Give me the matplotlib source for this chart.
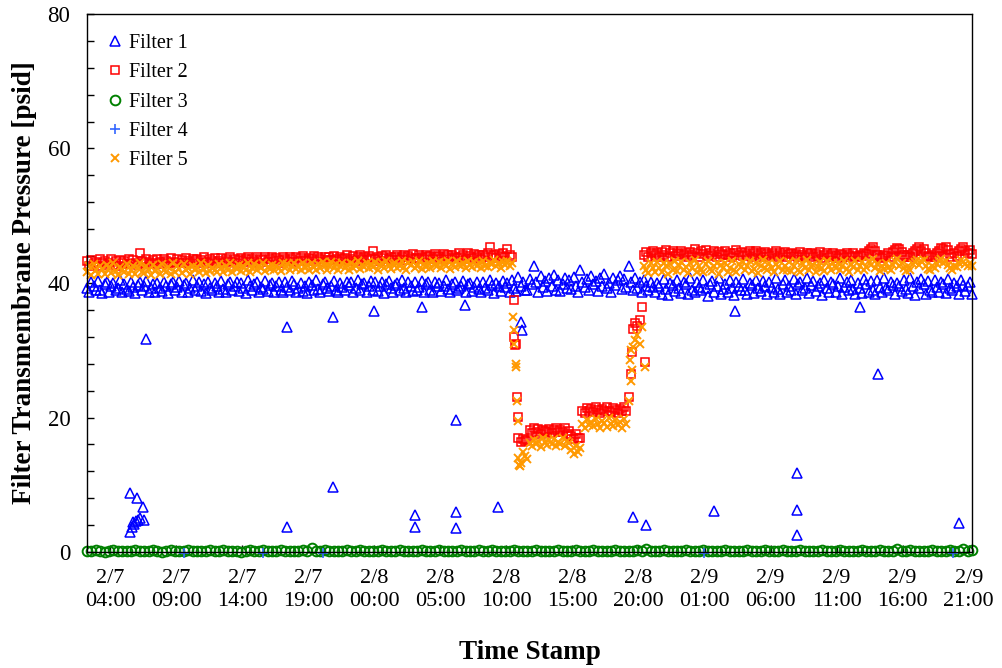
import numpy as np
import matplotlib
matplotlib.use("Agg")
import matplotlib.pyplot as plt
from matplotlib.ticker import MultipleLocator

plt.rcParams['font.family'] = ['Liberation Serif', 'DejaVu Serif']

# ---------------- data (hours counted from 2/7 00:00) ----------------
t_start = 2.25            # first reading 2/7 02:15
step_main = 1.0 / 6.0     # filters 1, 2, 5 read every 10 min
step_f3 = 1.0 / 3.0       # filter 3 read every 20 min

filter1 = [
    39.2, 38.6, 40.1, 39.5, 38.9, 40.3, 39.0, 38.5, 39.8, 40.2,
    38.7, 39.6, 40.0, 38.9, 39.3, 40.4, 38.6, 39.9, 39.1, 38.8,
    40.2, 39.4, 38.5, 39.7, 40.1, 38.9, 39.5, 40.3, 38.7, 39.2,
    39.8, 38.6, 40.0, 39.3, 38.8, 40.2, 39.6, 38.5, 39.9, 40.1,
    38.9, 39.4, 40.3, 38.7, 39.7, 40.0, 38.6, 39.2, 40.4, 39.0,
    39.5, 40.1, 38.8, 39.9, 38.5, 40.2, 39.3, 38.9, 40.0, 39.6,
    38.7, 40.3, 39.1, 38.6, 39.8, 40.1, 38.9, 39.5, 40.2, 38.8,
    40.0, 39.2, 38.5, 40.4, 39.6, 38.9, 39.9, 40.2, 38.7, 39.4,
    39.1, 40.3, 38.8, 39.7, 40.0, 38.6, 39.5, 40.2, 39.0, 38.7,
    40.1, 39.4, 38.9, 40.3, 39.8, 38.6, 39.2, 40.0, 38.8, 39.6,
    38.5, 40.2, 39.7, 38.9, 40.4, 39.1, 38.7, 39.9, 40.1, 39.3,
    38.8, 39.6, 40.3, 39.0, 38.6, 40.0, 39.4, 38.9, 40.2, 39.7,
    40.1, 38.7, 39.3, 40.4, 38.9, 39.8, 40.0, 38.6, 39.5, 40.3,
    39.0, 40.2, 38.8, 39.6, 40.1, 38.5, 39.9, 40.3, 39.2, 38.7,
    39.7, 40.0, 38.9, 40.4, 39.3, 38.6, 40.1, 39.5, 38.8, 40.2,
    38.9, 39.4, 40.3, 38.7, 39.9, 40.1, 39.0, 38.6, 40.2, 39.6,
    40.0, 38.8, 39.5, 40.4, 39.1, 38.7, 39.8, 40.2, 38.9, 39.3,
    39.6, 40.3, 38.6, 39.9, 40.0, 38.8, 39.4, 40.2, 39.1, 38.7,
    40.1, 39.2, 38.9, 40.4, 39.7, 38.5, 40.0, 39.5, 38.8, 40.3,
    39.4, 40.0, 38.7, 40.5, 39.2, 38.8, 40.9, 39.6, 40.2, 39.0,
    38.9, 40.6, 39.8, 42.6, 40.1, 38.7, 41.0, 39.4, 40.3, 38.8,
    40.7, 39.5, 41.2, 39.0, 40.4, 38.8, 39.9, 40.8, 39.3, 40.5,
    39.1, 40.9, 39.6, 38.7, 41.9, 40.2, 39.4, 40.6, 38.9, 41.1,
    39.8, 40.3, 38.8, 40.7, 39.5, 41.3, 39.2, 40.0, 38.6, 40.8,
    39.7, 40.4, 41.0, 39.1, 40.6, 39.4, 42.5, 40.2, 39.0, 40.7,
    39.3, 40.1, 38.7, 40.5, 39.6, 38.9, 40.2, 39.4, 38.6, 40.0,
    39.5, 38.4, 40.6, 39.1, 38.2, 40.0, 39.7, 38.8, 40.4, 39.3,
    38.5, 40.2, 39.8, 38.3, 40.7, 39.0, 38.6, 40.1, 39.4, 38.9,
    40.5, 39.2, 38.1, 39.9, 40.3, 38.7, 39.6, 40.8, 38.4, 39.1,
    39.8, 38.6, 40.4, 39.3, 38.2, 40.1, 39.5, 38.9, 40.6, 39.0,
    38.3, 40.0, 39.7, 38.5, 40.5, 39.2, 38.8, 40.3, 39.6, 38.4,
    40.2, 39.4, 38.6, 40.7, 39.1, 38.3, 39.9, 40.4, 38.7, 39.5,
    39.0, 40.6, 38.4, 39.8, 40.1, 38.9, 39.3, 40.8, 38.5, 39.7,
    40.3, 38.8, 39.5, 40.0, 38.2, 40.5, 39.2, 38.6, 40.2, 39.9,
    38.7, 39.6, 40.7, 38.4, 39.4, 40.1, 38.9, 40.4, 39.1, 38.3,
    40.0, 39.3, 38.5, 40.6, 39.8, 38.7, 40.3, 39.0, 38.4, 40.5,
    39.4, 38.6, 40.8, 39.2, 38.9, 40.2, 39.7, 38.3, 40.0, 39.5,
    38.8, 40.4, 39.1, 38.5, 40.7, 39.6, 38.2, 40.1, 39.3, 40.6,
    39.9, 38.4, 40.3, 39.0, 38.7, 40.5, 39.4, 38.6, 40.2, 39.8,
    38.5, 40.6, 39.2, 38.9, 40.0, 39.5, 38.3, 40.4, 39.7, 38.8,
    39.6, 40.1, 38.4,
]

filter2 = [
    43.2, 42.6, 43.4, 42.8, 43.1, 42.5, 43.5, 42.9, 43.3, 42.7,
    43.0, 43.5, 42.7, 43.2, 42.6, 43.4, 42.9, 43.3, 42.8, 43.6,
    42.8, 43.4, 43.0, 42.7, 44.4, 43.3, 42.9, 43.5, 43.1, 42.8,
    43.4, 42.9, 43.6, 43.1, 42.8, 43.5, 43.2, 42.9, 43.7, 43.0,
    43.1, 43.6, 42.9, 43.4, 43.0, 43.7, 43.2, 42.9, 43.5, 43.3,
    43.6, 43.0, 43.4, 43.8, 43.1, 42.9, 43.5, 43.2, 43.7, 43.0,
    43.3, 43.7, 43.0, 43.5, 43.2, 43.8, 43.1, 43.6, 42.9, 43.4,
    43.7, 43.2, 43.5, 43.9, 43.1, 43.6, 43.3, 43.8, 43.0, 43.5,
    43.4, 43.8, 43.1, 43.6, 43.9, 43.2, 43.7, 43.4, 43.0, 43.8,
    43.6, 43.2, 43.9, 43.5, 43.1, 43.8, 43.3, 43.7, 44.0, 43.4,
    43.2, 43.7, 43.5, 44.0, 43.3, 43.8, 43.6, 43.1, 43.9, 43.4,
    43.8, 43.4, 44.0, 43.6, 43.2, 43.9, 43.5, 43.7, 44.1, 43.3,
    43.6, 44.0, 43.3, 43.8, 44.1, 43.5, 43.9, 43.4, 44.0, 43.7,
    44.7, 43.5, 43.9, 43.3, 44.0, 43.7, 44.2, 43.6, 43.8, 43.4,
    43.9, 44.2, 43.5, 43.8, 44.1, 43.4, 44.0, 43.7, 44.3, 43.6,
    43.7, 44.1, 43.9, 43.5, 44.2, 43.8, 44.0, 43.6, 44.3, 43.9,
    44.0, 43.6, 44.3, 43.8, 44.1, 43.5, 44.2, 43.9, 43.7, 44.4,
    43.8, 44.2, 43.6, 44.4, 44.0, 43.7, 44.3, 43.9, 44.1, 43.6,
    44.2, 43.8, 44.5, 45.3, 43.9, 44.1, 43.7, 44.3, 44.0, 44.4,
    43.9, 45.0, 44.2, 43.8, 37.5, 31.0, 17.0, 16.4, 16.8, 16.5,
    16.7, 18.1, 17.7, 18.4, 17.9, 18.3, 17.6, 18.2, 18.0, 17.8,
    18.3, 17.7, 18.1, 18.5, 17.8, 18.2, 17.9, 18.4, 17.6, 18.0,
    17.2, 16.8, 17.5, 17.0, 16.9, 21.0, 20.7, 21.4, 20.9, 21.2,
    20.8, 21.5, 21.1, 20.7, 21.3, 20.9, 21.6, 21.0, 20.8, 21.4,
    21.1, 20.7, 21.3, 21.0, 21.5, 20.9, 23.0, 26.4, 33.2, 34.0,
    33.6, 34.5, 36.5, 44.2, 44.6, 43.9, 44.4, 44.8, 44.1, 44.5,
    43.8, 44.6, 44.2, 44.9, 43.9, 44.4, 44.7, 44.0, 44.5, 44.3,
    44.8, 44.1, 44.5, 43.8, 44.6, 44.2, 45.0, 44.4, 43.9, 44.7,
    44.3, 44.9, 44.0, 44.5, 44.2, 44.8, 43.9, 44.6, 44.3, 44.1,
    44.7, 44.2, 44.5, 43.8, 44.4, 44.9, 44.1, 44.6, 44.0, 44.5,
    44.2, 44.8, 43.9, 44.4, 44.7, 44.1, 44.5, 43.8, 44.6, 44.3,
    44.0, 44.5, 44.2, 44.7, 43.9, 44.4, 44.1, 44.6, 43.8, 44.3,
    44.5, 44.0, 44.3, 43.8, 44.6, 44.2, 43.9, 44.4, 44.1, 44.5,
    43.9, 44.3, 44.0, 44.6, 43.7, 44.2, 44.5, 43.9, 44.1, 44.4,
    44.0, 43.7, 44.3, 44.1, 43.8, 44.5, 44.2, 43.9, 44.4, 44.0,
    43.8, 44.2, 44.0, 44.5, 44.3, 44.8, 45.1, 45.3, 44.7, 44.2,
    43.9, 43.7, 44.1, 44.0, 44.4, 43.8, 44.6, 44.9, 45.2, 45.0,
    44.6, 44.1, 43.8, 44.2, 43.9, 44.4, 44.7, 45.0, 45.3, 44.8,
    45.1, 44.5, 44.0, 43.8, 44.2, 43.9, 44.5, 44.8, 45.2, 45.0,
    45.3, 44.9, 44.3, 43.9, 44.4, 44.0, 44.7, 45.1, 45.3, 44.8,
    44.5, 44.9, 44.3,
]

filter5 = [
    41.6, 42.5, 41.2, 42.8, 41.9, 41.4, 42.6, 42.1, 41.3, 42.7,
    42.2, 41.5, 42.9, 41.8, 41.2, 42.4, 42.0, 41.6, 42.8, 41.4,
    41.9, 42.6, 41.3, 42.2, 42.9, 41.7, 41.5, 42.5, 42.0, 41.2,
    42.7, 41.8, 42.3, 41.4, 42.8, 42.0, 41.6, 42.4, 41.3, 42.9,
    41.7, 42.5, 42.1, 41.5, 42.8, 41.9, 42.3, 41.4, 42.6, 42.0,
    42.4, 41.6, 42.9, 42.1, 41.5, 42.7, 41.8, 42.3, 42.0, 41.6,
    42.8, 42.2, 41.7, 42.5, 41.9, 42.9, 41.6, 42.4, 42.1, 42.7,
    41.8, 42.6, 42.0, 42.9, 41.7, 42.3, 42.8, 41.9, 42.5, 42.2,
    42.9, 41.8, 42.4, 42.1, 42.7, 41.9, 42.6, 42.3, 41.8, 43.0,
    42.2, 42.8, 41.9, 42.5, 43.0, 42.1, 42.6, 41.9, 42.9, 42.3,
    42.7, 42.0, 42.9, 42.4, 41.9, 42.8, 42.2, 43.1, 42.5, 42.0,
    42.6, 43.1, 42.2, 42.8, 42.0, 42.5, 43.0, 42.3, 42.7, 41.9,
    42.9, 42.3, 42.6, 43.2, 42.1, 42.7, 42.4, 43.0, 42.2, 42.8,
    42.4, 43.1, 42.0, 42.7, 42.9, 42.3, 43.2, 42.5, 42.1, 42.8,
    43.0, 42.2, 42.6, 43.3, 42.4, 42.0, 42.9, 42.7, 43.1, 42.3,
    42.6, 43.2, 42.1, 42.8, 42.4, 43.0, 42.2, 43.3, 42.7, 42.5,
    43.1, 42.3, 42.9, 42.6, 43.3, 42.1, 42.8, 42.4, 43.2, 42.7,
    42.5, 43.0, 42.2, 43.3, 42.7, 42.4, 43.1, 42.6, 42.9, 42.3,
    43.2, 42.6, 42.4, 43.0, 42.8, 43.4, 42.5, 42.9, 42.3, 43.1,
    42.7, 43.2, 42.5, 42.9, 33.0, 28.0, 14.0, 13.2, 14.8, 14.3,
    13.8, 16.2, 15.8, 16.7, 16.0, 16.5, 15.6, 16.9, 16.3, 15.9,
    16.6, 16.1, 16.8, 15.7, 16.4, 16.0, 16.9, 15.8, 16.5, 16.2,
    15.2, 14.6, 15.8, 14.9, 15.4, 19.1, 18.5, 19.7, 18.9, 19.4,
    18.7, 19.8, 19.0, 18.4, 19.5, 19.2, 18.6, 19.9, 19.1, 18.8,
    19.6, 18.9, 19.3, 18.5, 19.8, 19.0, 22.5, 25.5, 30.5, 31.5,
    32.2, 31.0, 33.5, 42.6, 42.0, 41.5, 42.9, 42.3, 41.7, 43.1,
    42.2, 41.6, 43.0, 42.5, 41.4, 42.8, 42.0, 43.3, 41.8, 42.6,
    43.1, 41.9, 42.4, 41.5, 42.9, 42.2, 43.4, 41.7, 42.6, 42.0,
    41.6, 42.8, 43.2, 42.1, 41.8, 42.5, 43.0, 41.4, 42.7, 42.3,
    42.9, 41.7, 42.3, 43.3, 42.0, 41.6, 42.8, 42.4, 43.1, 41.9,
    42.5, 43.2, 41.8, 42.1, 42.9, 41.5, 42.6, 43.4, 42.2, 41.9,
    43.0, 42.3, 41.7, 42.8, 42.4, 43.3, 41.9, 42.5, 42.0, 43.1,
    41.8, 42.6, 43.2, 42.0, 41.6, 42.9, 42.3, 43.4, 41.9, 42.5,
    42.7, 41.7, 42.4, 43.1, 42.2, 41.8, 43.3, 42.6, 42.0, 42.9,
    42.3, 43.0, 41.9, 42.5, 43.2, 42.1, 41.7, 42.8, 42.4, 43.3,
    42.0, 42.6, 43.1, 41.9, 42.4, 43.3, 42.7, 43.5, 42.2, 42.8,
    41.8, 42.5, 42.1, 43.0, 42.3, 41.9, 42.7, 43.2, 43.5, 42.6,
    43.0, 42.2, 41.8, 42.5, 42.0, 42.8, 43.1, 43.4, 42.7, 43.2,
    43.4, 42.6, 42.1, 41.9, 42.5, 42.2, 42.8, 43.3, 43.5, 42.9,
    43.2, 42.7, 42.3, 41.9, 42.6, 42.4, 43.0, 43.4, 43.1, 42.8,
    42.5, 43.0, 42.6,
]

filter3 = [
    0.2, 0.1, 0.3, 0.2, 0.0, 0.2, 0.3, 0.1, 0.2, 0.2,
    0.1, 0.3, 0.2, 0.2, 0.1, 0.3, 0.2, 0.0, 0.2, 0.3,
    0.2, 0.1, 0.2, 0.3, 0.2, 0.1, 0.2, 0.2, 0.3, 0.1,
    0.2, 0.3, 0.1, 0.2, 0.2, 0.0, 0.2, 0.3, 0.2, 0.1,
    0.3, 0.2, 0.1, 0.2, 0.3, 0.2, 0.2, 0.1, 0.2, 0.3,
    0.2, 0.6, 0.2, 0.1, 0.3, 0.2, 0.2, 0.1, 0.2, 0.3,
    0.1, 0.2, 0.3, 0.2, 0.1, 0.2, 0.2, 0.3, 0.2, 0.1,
    0.2, 0.3, 0.2, 0.1, 0.2, 0.2, 0.3, 0.1, 0.2, 0.2,
    0.3, 0.2, 0.1, 0.2, 0.2, 0.3, 0.2, 0.1, 0.2, 0.3,
    0.2, 0.1, 0.3, 0.2, 0.2, 0.1, 0.2, 0.3, 0.2, 0.2,
    0.1, 0.2, 0.3, 0.2, 0.1, 0.2, 0.2, 0.3, 0.1, 0.2,
    0.2, 0.3, 0.2, 0.1, 0.2, 0.3, 0.2, 0.2, 0.1, 0.2,
    0.3, 0.2, 0.1, 0.2, 0.2, 0.3, 0.2, 0.5, 0.2, 0.1,
    0.2, 0.3, 0.2, 0.1, 0.2, 0.2, 0.3, 0.2, 0.1, 0.2,
    0.3, 0.2, 0.2, 0.1, 0.2, 0.3, 0.2, 0.1, 0.2, 0.2,
    0.3, 0.1, 0.2, 0.2, 0.3, 0.2, 0.1, 0.2, 0.3, 0.2,
    0.2, 0.1, 0.3, 0.2, 0.2, 0.1, 0.2, 0.3, 0.2, 0.1,
    0.2, 0.3, 0.2, 0.2, 0.1, 0.2, 0.3, 0.2, 0.2, 0.1,
    0.3, 0.2, 0.1, 0.2, 0.5, 0.2, 0.1, 0.3, 0.2, 0.2,
    0.1, 0.2, 0.3, 0.2, 0.2, 0.1, 0.3, 0.2, 0.2, 0.4,
    0.2, 0.3,
]

# extra (off-grid) readings
filter1_extra_h = [5.51, 6.04, 6.49, 6.56, 6.11, 5.73, 5.66, 5.51, 5.80, 5.95, 6.30,
                   6.72, 17.39, 17.39, 20.87, 20.87, 23.98, 27.08, 27.08, 27.61,
                   30.18, 30.18, 30.18, 30.86, 33.36, 35.10, 35.18, 43.58, 44.57,
                   49.71, 51.30, 56.00, 56.00, 56.00, 60.77, 62.13, 68.26]
filter1_extra_v = [8.8, 8.0, 6.7, 4.8, 4.8, 4.5, 3.7, 3.0, 4.2, 4.6, 5.0,
                   31.6, 3.7, 33.4, 9.7, 35.0, 35.9, 5.5, 3.7, 36.5,
                   6.0, 3.6, 19.7, 36.8, 6.7, 34.2, 33.0, 5.2, 4.0,
                   6.1, 35.8, 11.8, 6.3, 2.5, 36.5, 26.4, 4.3]

filter2_extra_h = [34.57, 34.65, 34.80, 34.88, 43.51, 44.49]
filter2_extra_v = [31.9, 30.8, 23.1, 20.1, 29.7, 28.2]

filter5_extra_h = [34.50, 34.60, 34.72, 34.80, 34.88, 34.95, 35.02, 43.35, 43.45, 43.51, 44.49]
filter5_extra_v = [35.0, 31.0, 27.5, 22.5, 19.5, 13.0, 12.8, 28.5, 30.0, 27.0, 27.5]

filter4_h = [9.59, 15.57, 20.12, 48.96, 67.81]
filter4_v = [-0.15, -0.15, -0.15, -0.15, -0.15]

tick_hours = [4, 9, 14, 19, 24, 29, 34, 39, 44, 49, 54, 59, 64, 69]
tick_labels = ["2/7\n04:00", "2/7\n09:00", "2/7\n14:00", "2/7\n19:00",
               "2/8\n00:00", "2/8\n05:00", "2/8\n10:00", "2/8\n15:00",
               "2/8\n20:00", "2/9\n01:00", "2/9\n06:00", "2/9\n11:00",
               "2/9\n16:00", "2/9\n21:00"]

# ---------------- plot ----------------
hours1 = t_start + step_main * np.arange(len(filter1))
hours2 = t_start + step_main * np.arange(len(filter2))
hours5 = t_start + step_main * np.arange(len(filter5))
hours3 = t_start + step_f3 * np.arange(len(filter3))

fig = plt.figure(figsize=(10.02, 6.68), dpi=100)
ax = fig.add_axes([87 / 1002, 116 / 668, 885 / 1002, 538 / 668])

c1, c2, c3, c4, c5 = '#0000FF', '#FF0000', '#008000', '#3366FF', '#FF9900'

ax.plot(np.concatenate([hours1, filter1_extra_h]), np.concatenate([filter1, filter1_extra_v]),
        ls='none', marker='^', ms=6.5, mfc='none', mec=c1, mew=1.1, label='Filter 1', clip_on=False)
ax.plot(np.concatenate([hours2, filter2_extra_h]), np.concatenate([filter2, filter2_extra_v]),
        ls='none', marker='s', ms=5.8, mfc='none', mec=c2, mew=1.1, label='Filter 2', clip_on=False)
ax.plot(hours3, filter3, ls='none', marker='o', ms=7, mfc='none', mec=c3, mew=1.4,
        label='Filter 3', clip_on=False)
ax.plot(filter4_h, filter4_v, ls='none', marker='+', ms=7, mec=c4, mew=1.2,
        label='Filter 4', clip_on=False)
ax.plot(np.concatenate([hours5, filter5_extra_h]), np.concatenate([filter5, filter5_extra_v]),
        ls='none', marker='x', ms=6, mec=c5, mew=1.4, label='Filter 5', clip_on=False)

ax.set_xlim(2.25, 69.25)
ax.set_ylim(0, 80)
ax.set_xticks(tick_hours)
ax.set_xticklabels(tick_labels, fontsize=16, linespacing=1.3)
ax.yaxis.set_major_locator(MultipleLocator(20))
ax.yaxis.set_minor_locator(MultipleLocator(4))
ax.tick_params(axis='y', which='both', direction='in', length=5, width=1, labelsize=16.5, pad=12)
ax.tick_params(axis='x', which='both', direction='in', length=5, width=1, pad=12)
for s in ax.spines.values():
    s.set_linewidth(1.0)
    s.set_color('black')

ax.set_ylabel('Filter Transmembrane Pressure [psid]', fontsize=19.5, fontweight='bold')
ax.set_xlabel('Time Stamp', fontsize=19.5, fontweight='bold')
ax.yaxis.set_label_coords(-0.056, 0.5)
ax.xaxis.set_label_coords(0.5, -0.163)

leg = ax.legend(loc='upper left', frameon=False, fontsize=14.5, handlelength=0.8,
                handletextpad=0.3, labelspacing=0.5, borderaxespad=0.6, numpoints=1)

fig.savefig('out.png', dpi=100)
